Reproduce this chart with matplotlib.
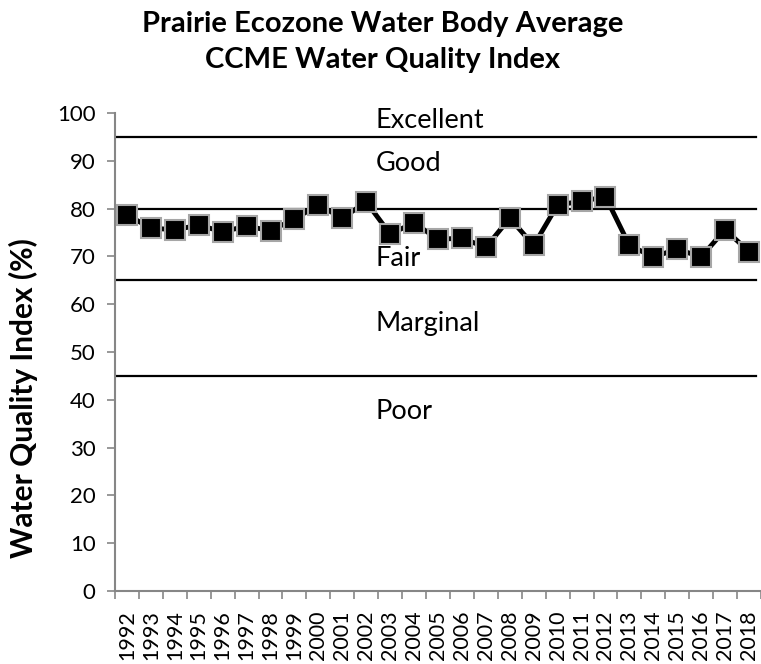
import numpy as np
from matplotlib import pyplot as plt

years = [str(y) for y in range(1992, 2019)]
wqi = [78.7, 75.9, 75.6, 76.5, 75.2, 76.3, 75.4, 77.8, 80.8, 78.0, 81.4, 74.7, 77.0,
       73.6, 73.8, 71.9, 78.0, 72.3, 80.8, 81.5, 82.5, 72.3, 69.9, 71.5, 69.9, 75.6, 71.0]
bounds = [95, 80, 65, 45]
classes = ["Excellent", "Good", "Fair", "Marginal", "Poor"]
class_y = [98.5, 89.5, 69.5, 56.0, 37.5]

plt.rcParams['font.family'] = ['Lato', 'DejaVu Sans']

fig = plt.figure(figsize=(7.61, 6.64), dpi=100)
ax = fig.add_axes([115 / 761, 73 / 664, 646 / 761, 478 / 664])

x = np.arange(len(years))
ax.plot(x, wqi, color='black', lw=3.5, marker='s', markersize=15,
        markerfacecolor='black', markeredgecolor='#a6a6a6', markeredgewidth=1.5, zorder=3)

for b in bounds:
    ax.axhline(b, color='black', lw=1.6, xmax=0.993, zorder=2)

for name, yv in zip(classes, class_y):
    ax.text(10.4, yv, name, fontsize=19.5, va='center', ha='left')

ax.set_ylim(0, 100)
ax.set_xlim(-0.5, len(years) - 0.5)
ax.set_yticks(range(0, 101, 10))
ax.set_xticks(x)
ax.set_xticklabels(years, rotation=90, fontsize=15.5)
ax.set_xticks(np.arange(-0.5, len(years), 1), minor=True)
ax.tick_params(axis='x', which='major', length=0, pad=14)
ax.tick_params(axis='x', which='minor', length=6, color='#868686', width=1.2)
ax.tick_params(axis='y', labelsize=16, length=6, color='#868686', width=1.2, pad=8)

for s in ['top', 'right']:
    ax.spines[s].set_visible(False)
for s in ['left', 'bottom']:
    ax.spines[s].set_color('#868686')
    ax.spines[s].set_linewidth(1.5)

ax.set_ylabel("Water Quality Index (%)", fontsize=21.5, fontweight='bold')
ax.yaxis.set_label_coords(-0.119, 0.404)

fig.text(0.503, 0.983, "Prairie Ecozone Water Body Average\nCCME Water Quality Index",
         ha='center', va='top', fontsize=21, fontweight='bold', linespacing=1.45)

fig.savefig("out.png", dpi=100)
